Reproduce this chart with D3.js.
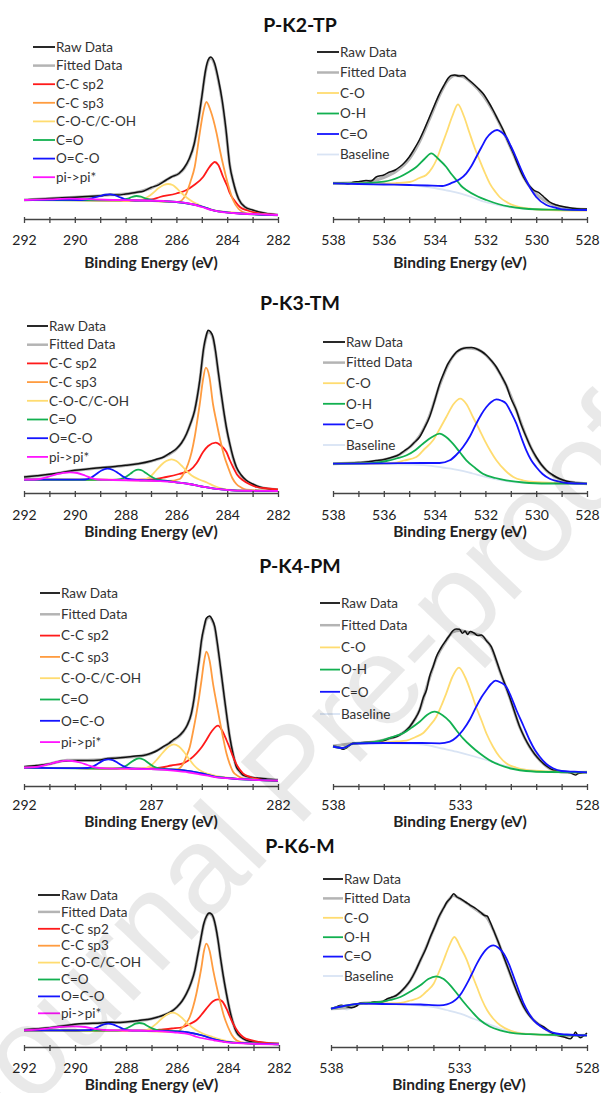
<!DOCTYPE html>
<html>
<head>
<meta charset="utf-8">
<script src="https://cdn.jsdelivr.net/npm/d3@7"></script>
<style>
  body { margin: 0; background: #fff; }
  text { font-family: Lato, "Open Sans", sans-serif; }
</style>
</head>
<body>
<script>
// ---- legend names / tick labels ----
const cNames = ['Raw Data', 'Fitted Data', 'C-C sp2', 'C-C sp3', 'C-O-C/C-OH', 'C=O', 'O=C-O', 'pi->pi*'];
const oNames = ['Raw Data', 'Fitted Data', 'C-O', 'O-H', 'C=O', 'Baseline'];
const titles = ['P-K2-TP', 'P-K3-TM', 'P-K4-PM', 'P-K6-M'];
const cTicks2 = [292, 290, 288, 286, 284, 282];
const cTicks5 = [292, 287, 282];
const oTicks2 = [538, 536, 534, 532, 530, 528];
const oTicks5 = [538, 533, 528];

// ---- P-K2-TP, C 1s  [binding energy eV, intensity a.u.] ----
const k2c_raw = [[292,19],[291.5,19.8],[291,20.6],[290.5,21.2],[290,21.8],[289.5,22.5],[289,23.2],[288.6,24.5],[288.3,24],[288,25],[287.6,26.6],[287.3,27.8],[287,31.5],[286.7,34.2],[286.4,39],[286.2,42],[285.9,45.5],[285.7,51],[285.5,60],[285.3,75],[285.15,96],[285,122],[284.85,149],[284.75,159],[284.65,162],[284.5,156],[284.35,140],[284.2,119],[284.05,90],[283.9,54],[283.75,36],[283.55,20],[283.3,12],[283,9],[282.5,5.7],[282,4]];
const k2c_fit = [[292,19],[291,20.5],[290,21.8],[289,23.2],[288.6,24.2],[288,25],[287.5,27],[287,31],[286.5,37.5],[286.2,42],[285.9,45.5],[285.7,50.5],[285.5,59.5],[285.3,75],[285.15,96],[285,122],[284.85,148],[284.75,158],[284.65,161],[284.5,155],[284.35,139],[284.2,118],[284.05,89],[283.9,54],[283.75,36],[283.55,20],[283.3,12],[283,8.7],[282.5,5.5],[282,4]];
const k2c_sp2 = [[292,19],[290,18.8],[288,18.5],[287,19.5],[286.65,22],[286,25.5],[285.6,29],[285.3,34],[284.95,42],[284.75,50],[284.6,55],[284.49,57],[284.35,54],[284.16,42],[284,33],[283.9,26],[283.7,18],[283.5,12],[283.2,8.5],[282.85,6],[282.4,4.6],[282,4]];
const k2c_sp3 = [[292,19],[288,18.5],[286.5,17.5],[286,17],[285.87,17.5],[285.6,26],[285.45,37],[285.28,52],[285.08,86],[284.95,106],[284.82,117],[284.65,108],[284.42,86],[284.28,68],[284.14,52],[283.95,33],[283.77,19],[283.55,10],[283.38,7],[283,5],[282,4]];
const k2c_coc = [[292,19],[288,18.5],[287.6,18.8],[287.3,20],[287.1,22.5],[286.92,26],[286.7,31],[286.5,34],[286.33,35],[286.15,34],[286,31],[285.8,26],[285.6,21.5],[285.34,17],[285.1,14],[284.8,11],[284.5,8.5],[284,7],[283,5],[282,4]];
const k2c_co = [[292,19],[289,18.7],[288.3,18.6],[288.1,19],[287.9,20.5],[287.75,22],[287.57,23],[287.4,22.3],[287.2,20.5],[287,19],[286.7,18],[286,17],[285,12.5],[284.5,8.3],[283.5,5.5],[282,4]];
const k2c_oco = [[292,19],[290.5,19.2],[289.9,19],[289.6,19.5],[289.3,21],[289,23],[288.8,24.3],[288.62,24.7],[288.45,24],[288.25,22],[288.05,20],[287.8,18.7],[287,18.3],[286,17],[285,12.5],[284.5,8.3],[283.5,5.5],[282,4]];
const k2c_pi = [[292,19],[291,19.6],[290.2,20.3],[289.5,19.8],[288.5,19],[287.5,18.6],[286.5,18],[286,17.2],[285.5,15.5],[285,12],[284.6,8.8],[284.2,6.8],[283.5,5.5],[282.5,4.5],[282,4]];

// ---- P-K2-TP, O 1s ----
const k2o_raw = [[538,35.7],[537.6,36],[537.4,35],[537.2,36.8],[537,37.3],[536.7,38.5],[536.5,38],[536.3,42],[536,44],[535.77,47],[535.55,49],[535.38,52],[535.2,56],[535,62],[534.8,70],[534.6,79],[534.4,90],[534.2,102],[534,114],[533.8,125.7],[533.6,135],[533.47,140.7],[533.35,143.5],[533.2,144],[533.05,143],[532.88,143.5],[532.7,140],[532.5,135.7],[532.3,131],[532.1,125.7],[531.9,118],[531.7,109],[531.5,99],[531.3,89],[531.1,77],[530.9,65.7],[530.7,53],[530.5,42],[530.3,34],[530.1,29],[529.86,25.7],[529.7,22],[529.47,17],[529.2,14],[528.8,11.7],[528.4,10.3],[528,10]];
const k2o_fit = [[538,35.7],[537,36.5],[536.5,38],[536,41.5],[535.5,48],[535,60],[534.6,77],[534.2,100],[533.8,124],[533.5,138],[533.2,143.5],[532.9,142.5],[532.5,135],[532.1,124],[531.7,108],[531.3,88],[530.9,65],[530.5,42],[530.1,27.5],[529.7,19],[529.3,14],[528.8,11],[528,9.5]];
const k2o_c_o = [[538,35.7],[536,35.5],[535.5,36],[534.98,37],[534.6,41],[534.33,44],[534.1,51],[533.93,59],[533.74,72],[533.54,85.7],[533.3,103],[533.08,114.7],[532.85,103],[532.62,85.7],[532.42,71],[532.23,59],[532,45],[531.83,35.7],[531.6,27],[531.44,22],[531.1,16],[530.8,13],[530.3,10.5],[529.5,9],[528,8.3]];
const k2o_oh = [[538,35.7],[537,35.7],[536,37.3],[535.7,39],[535.38,42],[535.05,46.5],[534.72,52],[534.4,60],[534.13,65.7],[533.85,60],[533.54,52],[533.34,45],[533.14,39],[532.95,33],[532.75,29],[532.3,22.5],[531.96,19],[531.5,15],[531.04,12.3],[530.5,10.5],[529.5,9.3],[528,9]];
const k2o_cdo = [[538,35.7],[537,35],[536,34.5],[535,34],[534.3,33.5],[533.7,33],[533.3,36.3],[533,40],[532.75,45.7],[532.55,53],[532.36,62],[532.15,72],[531.96,80.7],[531.75,86.5],[531.54,89],[531.35,86.5],[531.18,82],[531,73],[530.8,62],[530.6,50],[530.4,39],[530.2,29.5],[530,22],[529.6,14],[529.2,11],[528.95,9.7],[528,9]];
const k2o_base = [[538,35.7],[537,35.5],[536,35],[535,34],[534.4,32.5],[534,31],[533.5,28.5],[533,25.7],[532.5,21.5],[532,17],[531.5,14],[531,11.7],[530.5,10.3],[530,9.7],[529,8.8],[528,8.3]];

// ---- P-K3-TM, C 1s ----
const k3c_raw = [[292,16],[291.5,17.3],[291,18.7],[290.5,20.5],[290,22.7],[289.5,24],[289,25.3],[288.5,26.3],[288,27.7],[287.5,29.3],[287,32],[286.75,34],[286.5,36],[286.25,40],[286,44.3],[285.8,50],[285.6,59.3],[285.45,69],[285.28,82.7],[285.18,96],[285.08,112.7],[284.92,146],[284.83,157],[284.75,162.7],[284.65,161],[284.56,156],[284.46,142],[284.36,122.7],[284.25,102],[284.14,82.7],[284.02,64],[283.9,49.3],[283.77,36],[283.64,26],[283.45,18],[283.25,12.7],[283,9],[282.72,6],[282.4,4.3],[282,3.3]];
const k3c_fit = [[292,16],[291,18.5],[290,22.5],[289,25.2],[288,27.5],[287.5,29.2],[287,31.8],[286.5,36],[286,44],[285.8,50],[285.6,59],[285.45,69],[285.28,82.5],[285.18,96],[285.08,112],[284.92,145],[284.83,156],[284.75,161.5],[284.65,160],[284.56,155],[284.46,141],[284.36,122],[284.25,101.5],[284.14,82],[284.02,63.5],[283.9,49],[283.77,35.5],[283.64,25.5],[283.45,17.5],[283.25,12.3],[283,8.8],[282.72,5.8],[282.4,4.2],[282,3.3]];
const k3c_sp2 = [[292,13.3],[290,13.3],[288,13.2],[287,13.5],[286.4,16],[285.9,19],[285.47,22.7],[285.2,30],[284.95,41],[284.75,47],[284.45,50.3],[284.25,47.5],[284.03,41],[283.9,33],[283.77,26],[283.6,18],[283.38,12.7],[283.1,8.5],[282.85,6],[282.4,4.5],[282,3.7]];
const k3c_sp3 = [[292,13.3],[288,13],[286.3,12],[285.87,14],[285.7,20],[285.54,29],[285.4,41],[285.28,56],[285.18,72],[285.08,89],[284.96,112],[284.84,125.3],[284.7,116],[284.56,89],[284.43,72],[284.3,56],[284.13,38],[283.97,26],[283.8,15],[283.64,9],[283.45,5.5],[283.25,3.3],[282.5,2.3],[282,2]];
const k3c_coc = [[292,13.3],[288,13],[287.4,13.2],[287.2,14],[287,17],[286.8,22.5],[286.6,28],[286.4,32],[286.19,33.7],[286,32],[285.8,27.5],[285.6,22],[285.4,17.5],[285.1,13.5],[284.8,10.5],[284.5,7],[284.2,4.5],[283.8,3],[282,2]];
const k3c_co = [[292,13.3],[288.5,13.2],[288.2,13.8],[288,16],[287.8,19.5],[287.65,22.3],[287.5,23.3],[287.35,22.5],[287.2,20],[287,16.5],[286.8,14],[286.5,12.5],[286,10.7],[285.5,9],[285,6.5],[284.5,4.3],[283.8,2.7],[282,2]];
const k3c_oco = [[292,13.3],[290,13.3],[289.6,13.5],[289.35,15.5],[289.15,19],[288.95,22.5],[288.72,24.3],[288.5,23],[288.3,20],[288.1,16.5],[287.9,14],[287.5,13],[286.5,12.2],[286,10.7],[285.5,9],[285,6.5],[284.5,4.3],[283.8,2.7],[282,2]];
const k3c_pi = [[292,13.3],[291.6,13.5],[291.3,14.5],[291,16.5],[290.7,18.8],[290.45,20.2],[290.19,20.7],[289.9,20],[289.6,17.5],[289.35,15],[289.1,13.5],[288.5,13],[287.5,12.5],[286.5,11.7],[286,10.7],[285.5,9],[285,6.5],[284.5,4.3],[283.8,2.7],[283,2.2],[282,2]];

// ---- P-K3-TM, O 1s ----
const k3o_raw = [[538,29.3],[537.5,29.8],[537,30.5],[536.7,31],[536.3,32.5],[536.03,33.3],[535.7,35.5],[535.38,38.7],[535.2,42],[534.98,46],[534.8,50.5],[534.59,56],[534.4,65],[534.2,76],[534,92],[533.8,109.3],[533.65,119],[533.47,129.3],[533.3,136],[533.14,141],[532.95,144],[532.75,145.3],[532.55,145.5],[532.36,144.3],[532.15,141.5],[531.96,137.7],[531.77,132.5],[531.57,126],[531.38,117.5],[531.18,107.7],[531,95],[530.78,82.7],[530.6,69],[530.39,56],[530.2,45],[530,36],[529.8,28.5],[529.6,22.7],[529.35,18],[529.08,14.3],[528.75,11.5],[528.42,10.3],[528,9.3]];
const k3o_fit = [[538,29.3],[537,30.3],[536,33.2],[535.38,38.5],[534.98,46],[534.59,57],[534.2,77],[533.8,108],[533.47,128.5],[533.14,140.5],[532.75,145],[532.36,144],[531.96,137.5],[531.57,125.5],[531.18,107.5],[530.78,82.5],[530.39,56],[530,35.5],[529.6,22.5],[529.08,14],[528.42,10.2],[528,9.3]];
const k3o_c_o = [[538,29.3],[536.5,29.5],[535.64,30],[535.2,32.5],[534.72,36],[534.4,44],[534.06,52.7],[533.8,64],[533.54,76],[533.25,89],[532.99,94.3],[532.75,89],[532.49,76],[532.25,64],[532.03,52.7],[531.8,42],[531.57,32.7],[531.2,22],[530.9,16],[530.5,12.5],[530.1,11],[529,9.8],[528,9.3]];
const k3o_oh = [[538,29.3],[536.5,29.8],[535.9,32],[535.5,34.5],[535.1,37.7],[534.75,43],[534.46,49.3],[534.1,56],[533.8,59.3],[533.55,56],[533.28,49.3],[533,40.5],[532.75,32.7],[532.4,25],[532.1,19.3],[531.6,15],[531.18,12.7],[530.5,10.5],[529.5,9.5],[528,9.3]];
const k3o_cdo = [[538,29.3],[536,29.6],[534.5,30],[533.8,30],[533.4,32.7],[533.15,38],[532.88,46],[532.6,57],[532.36,69.3],[532.15,79],[531.96,86],[531.77,91],[531.57,93.7],[531.38,92.5],[531.18,89.3],[531,81],[530.78,69.3],[530.58,55],[530.39,42.7],[530.2,33],[530,26],[529.75,19],[529.47,14.3],[529.1,11.5],[528.8,10],[528,9.3]];
const k3o_base = [[538,29.3],[536,29],[535,28.5],[534.33,27.7],[533.7,25.5],[533,22.7],[532.5,19.5],[531.96,16],[531.4,13],[530.9,11],[530,10],[529,9.5],[528,9.3]];

// ---- P-K4-PM, C 1s ----
const k4c_raw = [[292,19.3],[291.5,20.5],[291,22],[290.5,25],[290,25.6],[289.5,25.5],[289,26],[288.7,27.5],[288.4,27.8],[288,28.7],[287.6,30],[287.3,30.5],[287,32.7],[286.75,35.5],[286.52,39.3],[286.3,42.5],[286.13,46],[285.95,49],[285.74,54.3],[285.57,61],[285.41,72.7],[285.3,88],[285.21,106],[285.1,127],[285.01,146],[284.9,160],[284.82,167.7],[284.69,170],[284.6,167],[284.49,159.3],[284.4,145],[284.3,126],[284.2,106],[284.1,86],[284,67],[283.9,49.3],[283.77,32],[283.64,19.3],[283.5,14.5],[283.38,11],[283,8.5],[282.72,7.7],[282.4,6.8],[282,6]];
const k4c_fit = [[292,19],[291,22],[290.3,25.8],[289.5,25.7],[289,26.2],[288.7,27.5],[288,28.7],[287.5,29.8],[287,32.5],[286.52,39],[286.13,45.5],[285.74,54],[285.57,61],[285.41,72.5],[285.3,88],[285.21,106],[285.1,127],[285.01,145],[284.9,159],[284.82,166.5],[284.69,169],[284.6,166],[284.49,158.5],[284.4,144],[284.3,125.5],[284.2,105.5],[284.1,85.5],[284,66.5],[283.9,49],[283.77,32],[283.64,19.5],[283.5,14],[283.38,11],[283,8.3],[282.5,7],[282,6]];
const k4c_sp2 = [[292,18.3],[290,17.8],[288,17.3],[287,17.5],[286.65,18.3],[286.2,20.5],[285.74,22.7],[285.45,27],[285.21,32.7],[285,39],[284.82,46],[284.6,55],[284.36,60.3],[284.2,55.5],[284.03,46],[283.9,38],[283.77,29.3],[283.6,20],[283.38,12.7],[283.1,9],[282.72,6.7],[282.3,5.8],[282,5.3]];
const k4c_sp3 = [[292,18.3],[288,17.3],[286.5,16.7],[286,16.5],[285.76,21],[285.62,29],[285.47,39.3],[285.34,55],[285.21,72.7],[285.1,90],[285.01,106],[284.92,123],[284.82,134.3],[284.69,125],[284.56,102.7],[284.43,84],[284.3,66],[284.16,48],[284.03,32.7],[283.9,22],[283.77,14.3],[283.58,10],[283.38,7.7],[283,6.5],[282,5.3]];
const k4c_coc = [[292,18.3],[288,17.3],[287.4,17.2],[287.2,18],[287,20.5],[286.8,25.5],[286.55,33],[286.3,39.5],[286.1,41.7],[285.9,39.5],[285.7,34],[285.5,27],[285.3,20.5],[285.1,16],[284.9,13.5],[284.6,11.2],[284.2,9],[283.7,7.5],[283,6.5],[282,5.3]];
const k4c_co = [[292,18.3],[288.5,17.3],[288.2,17.8],[288,20],[287.8,23.5],[287.6,26.7],[287.47,27.7],[287.3,26.5],[287.1,23],[286.9,19.5],[286.6,17.3],[286.2,16.5],[285.7,15.7],[285,12.5],[284.5,9.3],[283.8,7.5],[282,5.3]];
const k4c_oco = [[292,18.3],[290,17.8],[289.5,18],[289.25,20],[289.05,23],[288.85,25.8],[288.68,26.7],[288.5,25.8],[288.3,23],[288.1,20],[287.9,18],[287.6,17.3],[286.5,16.7],[285.7,15.7],[285,12.5],[284.5,9.3],[283.8,7.5],[282,5.3]];
const k4c_pi = [[292,18.3],[291.6,18.8],[291.3,20],[291,22],[290.7,24],[290.45,25.1],[290.32,25.3],[290.1,25],[289.8,23.5],[289.5,21],[289.2,18.5],[288.8,17.7],[288,17.3],[287,16.8],[286.13,15.3],[285.5,13.5],[285.08,11.7],[284.43,8.7],[283.77,7.3],[283,6.2],[282,5.3]];

// ---- P-K4-PM, O 1s ----
const k4o_raw = [[538,40],[537.8,39],[537.6,36.7],[537.45,38.5],[537.2,43],[536.8,43.5],[536.4,44],[536.1,44.5],[535.77,47.7],[535.55,49],[535.38,51],[535.2,54],[534.98,59.3],[534.8,66],[534.59,76],[534.45,88],[534.32,96],[534.2,109.3],[534.05,120],[533.93,129.3],[533.75,138],[533.54,146],[533.4,151],[533.28,155.3],[533.15,157],[533.02,156.7],[532.9,152.7],[532.8,155],[532.7,151.5],[532.6,154.5],[532.45,153],[532.3,150.5],[532.16,151],[531.95,145],[531.77,139.3],[531.6,128],[531.44,116],[531.25,103],[531.05,89.3],[530.85,74],[530.65,59.3],[530.45,48],[530.26,39.3],[530.05,31.5],[529.86,26],[529.6,20],[529.34,16],[529,14.3],[528.7,13.5],[528.45,11],[528.35,12.5],[528.2,13.2],[528,13.7]];
const k4o_fit = [[538,40],[537.2,42.5],[536.4,44],[535.77,47.5],[535.38,51],[534.98,59],[534.59,76],[534.2,108],[533.93,128],[533.54,145.5],[533.28,154],[533.02,155.5],[532.75,154],[532.45,152.5],[532.16,150],[531.77,138.5],[531.44,115.5],[531.05,89],[530.65,59],[530.26,39],[529.86,25.8],[529.34,16],[528.7,13.5],[528,13.7]];
const k4o_c_o = [[538,39.5],[537.6,38],[537.2,42.5],[536,43.7],[535.5,44.5],[535.11,45.3],[534.75,49],[534.46,52.7],[534.2,60],[533.93,69.3],[533.74,80],[533.54,92.7],[533.3,109],[533.04,118.3],[532.8,109],[532.55,92.7],[532.35,78],[532.16,66],[531.95,52],[531.7,39.3],[531.45,29.5],[531.18,22.7],[530.8,18.5],[530.4,16],[529.5,14.5],[528,13.7]];
const k4o_oh = [[538,39.5],[537.6,38],[537.2,42.5],[536.5,43.5],[536.03,46],[535.6,49.5],[535.24,52.7],[534.9,58.5],[534.59,64.3],[534.3,71],[534,74.3],[533.7,71],[533.4,64.3],[533.15,56],[532.88,47.7],[532.55,39.5],[532.23,32.7],[531.85,26],[531.44,21],[530.9,17],[530.4,15],[529.5,14],[528,13.7]];
const k4o_cdo = [[538,39.5],[537.6,38],[537.2,42.5],[536,43],[534.5,43],[533.8,42.7],[533.4,44.3],[533.15,48.5],[532.88,56],[532.6,67],[532.36,79.3],[532.15,89],[531.96,96],[531.78,102],[531.6,105.3],[531.4,103.5],[531.18,99.3],[531,90],[530.78,76],[530.5,60],[530.26,46],[530.05,36],[529.86,29.3],[529.6,22],[529.34,17.7],[529,15],[528.5,14.3],[528,13.7]];
const k4o_base = [[538,39.5],[537.6,38],[537.2,42.5],[536.5,43],[535,42.2],[534.33,41],[533.7,37.5],[533.14,34.3],[532.5,30],[531.96,26],[531.4,21.5],[530.78,17.7],[530,15.2],[529.3,14.3],[528,13.7]];

// ---- P-K6-M, C 1s ----
const k6c_raw = [[292,17.3],[291.5,18.3],[291,19.3],[290.5,21],[290,22.7],[289.5,23.5],[289,24],[288.7,24.8],[288.4,24.5],[288,25],[287.5,26.5],[287,28.3],[286.75,30],[286.54,31.7],[286.25,35],[286,40],[285.8,46],[285.63,53.3],[285.45,64],[285.3,76.7],[285.2,90],[285.1,103.3],[284.95,123.3],[284.84,131],[284.74,134],[284.65,133],[284.58,130],[284.48,120],[284.39,106.7],[284.3,90],[284.2,73.3],[284.06,53],[283.93,36.7],[283.8,24],[283.67,15],[283.5,10],[283.28,6.7],[283,5],[282.76,4],[282.4,3.6],[282,3.3]];
const k6c_fit = [[292,17],[291,19.2],[290,22.5],[289,24],[288,25],[287.5,26.3],[287,28.3],[286.54,31.7],[286.25,35],[286,40],[285.8,46],[285.63,53.3],[285.45,64],[285.3,76.7],[285.2,90],[285.1,103],[284.95,122.5],[284.84,130.5],[284.74,133.5],[284.65,132.5],[284.58,129.5],[284.48,119.5],[284.39,106.5],[284.3,90],[284.2,73],[284.06,53],[283.93,36.7],[283.8,24],[283.67,15],[283.5,10],[283.28,6.7],[283,5],[282.5,3.8],[282,3.3]];
const k6c_sp2 = [[292,16.7],[290,16.5],[288,16.3],[287,16.5],[286.67,17.3],[286.2,18.5],[285.76,20],[285.5,23],[285.24,26.7],[285.05,32],[284.85,38.3],[284.6,45.5],[284.39,47.7],[284.22,45.5],[284.06,38.3],[283.93,30.5],[283.8,23.3],[283.6,15],[283.41,10],[283.1,6.8],[282.76,5],[282.4,3.8],[282,3.3]];
const k6c_sp3 = [[292,16.7],[288,16.3],[286.3,15.5],[285.95,15.5],[285.83,18.3],[285.67,23],[285.5,30],[285.37,40],[285.24,53.3],[285.14,66],[285.04,80],[284.95,95],[284.85,103.3],[284.72,96],[284.58,76.7],[284.45,61],[284.32,46.7],[284.16,31],[284,20],[283.85,12],[283.67,6.7],[283.45,4.5],[283.28,4],[282,3]];
const k6c_coc = [[292,16.7],[288,16.3],[287.4,16.2],[287.2,17],[287,19.5],[286.8,23.5],[286.55,29.5],[286.35,33],[286.18,34.3],[286,33],[285.8,29],[285.6,24],[285.4,19.5],[285.15,15.5],[284.9,12.5],[284.6,10],[284.2,7],[283.7,4.5],[283,3.3],[282,2.7]];
const k6c_co = [[292,16.7],[288.5,16.3],[288.2,16.7],[288,18.3],[287.8,21],[287.62,23.3],[287.48,24],[287.32,23.3],[287.15,21],[286.95,18.3],[286.7,16.5],[286.3,16.2],[285.7,15.2],[285,11.5],[284.5,7.3],[283.8,4.3],[282,2.7]];
const k6c_oco = [[292,16.7],[290,16.7],[289.45,16.8],[289.25,18.3],[289.05,20.7],[288.87,22.7],[288.7,23.3],[288.52,22.7],[288.32,20.5],[288.1,18],[287.9,16.7],[287.5,16.3],[286.5,16],[285.7,15.2],[285,11.5],[284.5,7.3],[283.8,4.3],[282,2.7]];
const k6c_pi = [[292,16.7],[291.5,17.5],[291,18.8],[290.6,20],[290.07,20.7],[289.6,20],[289.2,18],[288.9,17],[288,16.5],[287,16.2],[286.13,14.7],[285.5,12.5],[285.2,10],[284.55,6.7],[283.93,4.3],[283,3.2],[282,2.7]];

// ---- P-K6-M, O 1s ----
const k6o_raw = [[538,38.3],[537.8,40],[537.6,41.7],[537.4,40.5],[537.2,39.3],[537,41],[536.85,44],[536.6,43.5],[536.3,45],[536.05,44.5],[535.8,48.3],[535.6,50],[535.45,51.5],[535.29,55],[535.1,60],[534.9,66.7],[534.7,76],[534.51,86.7],[534.3,98],[534.12,110],[533.95,120],[533.79,130],[533.6,139],[533.47,145],[533.33,149],[533.21,153.3],[533.08,150],[532.95,148.3],[532.75,145],[532.56,141.7],[532.35,138.5],[532.17,135],[532,131.5],[531.9,131],[531.8,126],[531.65,116.7],[531.45,104],[531.25,90],[531.05,76.5],[530.86,63.3],[530.65,50],[530.47,40],[530.28,32.5],[530.08,26.7],[529.9,23],[529.69,20],[529.45,15.5],[529.17,11.7],[528.9,10],[528.65,8.3],[528.5,13],[528.45,15],[528.35,11],[528.25,9.3],[528.1,12],[528,14]];
const k6o_fit = [[538,38.3],[537.2,40],[536.85,43.5],[536.05,45],[535.6,49.5],[535.29,54.5],[534.9,66.5],[534.51,86.5],[534.12,109.5],[533.79,129.5],[533.47,144.5],[533.21,151.5],[532.95,148],[532.56,141.5],[532.17,134.5],[531.9,129],[531.65,116.5],[531.25,90],[530.86,63.3],[530.47,40],[530.08,26.7],[529.69,19.5],[529.17,12],[528.6,11.5],[528,11.7]];
const k6o_c_o = [[538,38.3],[537.5,41],[536.85,43.3],[536,43.5],[535.29,44],[534.9,46.5],[534.51,50],[534.25,56],[533.99,63.3],[533.8,74],[533.6,86.7],[533.4,100],[533.18,110],[532.95,100],[532.69,86.7],[532.5,73],[532.3,60],[532.1,47],[531.9,36.7],[531.65,28],[531.39,21.7],[531,16.5],[530.5,13.3],[529.5,12],[528,11.7]];
const k6o_oh = [[538,38.3],[537.5,41],[536.85,43.3],[536.07,45],[535.7,47],[535.29,50],[534.9,55.5],[534.51,61.7],[534.2,68],[533.89,70.7],[533.6,68],[533.34,61.7],[533.08,53.5],[532.82,45],[532.5,35.5],[532.17,26.7],[531.8,20.5],[531.39,16.7],[530.8,13.7],[530,12.7],[528,11.7]];
const k6o_cdo = [[538,38.3],[537.5,41],[536.85,43.3],[536,43],[534.5,42.5],[533.75,41.7],[533.47,42.7],[533.25,45],[533.08,48.3],[532.9,54],[532.69,63.3],[532.5,73],[532.3,83.3],[532.13,91],[531.97,96.7],[531.8,100.5],[531.65,101.7],[531.45,99],[531.25,93.3],[531.05,83],[530.86,70],[530.66,56],[530.47,43.3],[530.28,34],[530.08,26.7],[529.8,20.5],[529.56,16.7],[529.2,13.5],[528.8,12.5],[528.5,12],[528,11.7]];
const k6o_base = [[538,38.3],[537.8,40],[537.6,39.5],[537.4,37.5],[537.2,39.3],[537,41.5],[536.85,43.3],[536,43],[534.5,41.5],[533.99,40],[533.5,37],[532.95,33.3],[532.4,28],[531.9,23.3],[531.4,18.5],[530.86,15],[530.2,12.7],[529.5,11.7],[528.5,11.7],[528,11.7]];

// ---- styles ----
const cColors = ['#111111', '#b4b4b4', '#ff1a1a', '#ff9c40', '#ffdc70', '#12b050', '#1414ff', '#ff14ff'];
const cWidths = [1.5, 3, 1.8, 1.8, 1.8, 1.8, 1.8, 1.8];
const oColors = ['#111111', '#b4b4b4', '#ffdc70', '#12b050', '#1414ff', '#d9e4f4'];
const oWidths = [1.5, 3, 1.8, 1.8, 1.8, 1.8];

const W = 601, H = 1093;
const svg = d3.select('body').append('svg').attr('width', W).attr('height', H);

// panel layout (pixels)
const rows = [
  { title: 25, axisY: 219, lab: 240, xt: 263 },
  { title: 303, axisY: 493, lab: 515, xt: 532 },
  { title: 566, axisY: 786, lab: 805, xt: 822 },
  { title: 846, axisY: 1047, lab: 1068, xt: 1085 }
];

const panels = [
  { row: 0, kind: 'C', r: [24, 278], labels: cTicks2, leg: [33, 55, 47, 18.6],
    series: [k2c_raw, k2c_fit, k2c_sp2, k2c_sp3, k2c_coc, k2c_co, k2c_oco, k2c_pi] },
  { row: 0, kind: 'O', r: [333, 587], labels: oTicks2, leg: [317, 339, 52, 20.5],
    series: [k2o_raw, k2o_fit, k2o_c_o, k2o_oh, k2o_cdo, k2o_base] },
  { row: 1, kind: 'C', r: [24, 278], labels: cTicks2, leg: [27, 48, 326, 18.7],
    series: [k3c_raw, k3c_fit, k3c_sp2, k3c_sp3, k3c_coc, k3c_co, k3c_oco, k3c_pi] },
  { row: 1, kind: 'O', r: [333, 587], labels: oTicks2, leg: [323, 345, 342, 20.6],
    series: [k3o_raw, k3o_fit, k3o_c_o, k3o_oh, k3o_cdo, k3o_base] },
  { row: 2, kind: 'C', r: [24, 278], labels: cTicks5, leg: [40, 60, 593, 21.3],
    series: [k4c_raw, k4c_fit, k4c_sp2, k4c_sp3, k4c_coc, k4c_co, k4c_oco, k4c_pi] },
  { row: 2, kind: 'O', r: [333, 587], labels: oTicks5, leg: [320, 340, 603, 22.2],
    series: [k4o_raw, k4o_fit, k4o_c_o, k4o_oh, k4o_cdo, k4o_base] },
  { row: 3, kind: 'C', r: [24, 279], labels: cTicks2, leg: [38, 60, 895, 16.9],
    series: [k6c_raw, k6c_fit, k6c_sp2, k6c_sp3, k6c_coc, k6c_co, k6c_oco, k6c_pi] },
  { row: 3, kind: 'O', r: [331, 587], labels: oTicks5, leg: [323, 343, 879, 19.4],
    series: [k6o_raw, k6o_fit, k6o_c_o, k6o_oh, k6o_cdo, k6o_base] }
];

function drawPanel(p) {
  const row = rows[p.row];
  const isC = p.kind === 'C';
  const names = isC ? cNames : oNames;
  const colors = isC ? cColors : oColors;
  const widths = isC ? cWidths : oWidths;
  const dom = isC ? [292, 282] : [538, 528];
  const g = svg.append('g');

  const x = d3.scaleLinear().domain(dom).range(p.r);
  const y = d3.scaleLinear().domain([0, 200]).range([row.axisY, row.axisY - 200]);
  const line = d3.line().x(d => x(d[0])).y(d => y(d[1])).curve(d3.curveMonotoneX);

  // baseline first (O 1s), then fitted, raw, then the components
  const order = isC ? [1, 0, 2, 3, 4, 5, 6, 7] : [5, 1, 0, 2, 3, 4];
  order.forEach(i => {
    g.append('path')
      .attr('d', line(p.series[i]))
      .attr('fill', 'none')
      .attr('stroke', colors[i])
      .attr('stroke-width', widths[i])
      .attr('stroke-linejoin', 'round');
  });

  // x axis: minor tick every 1 eV, labels only on some
  const lo = Math.min(...dom), hi = Math.max(...dom);
  const ax = g.append('g')
    .attr('transform', `translate(0,${row.axisY})`)
    .call(d3.axisBottom(x)
      .tickValues(d3.range(lo, hi + 1))
      .tickSize(4)
      .tickSizeOuter(0)
      .tickFormat(d => p.labels.includes(d) ? d : ''));
  ax.select('.domain').attr('stroke', '#444').attr('stroke-width', 1.3);
  ax.selectAll('.tick line').attr('stroke', '#444').attr('stroke-width', 1.3).attr('y1', -2);
  ax.selectAll('.tick text')
    .attr('y', row.lab - row.axisY)
    .attr('dy', '0.35em')
    .attr('fill', '#222')
    .style('font-family', 'Lato, sans-serif')
    .style('font-size', '14px');

  g.append('text')
    .attr('x', (p.r[0] + p.r[1]) / 2)
    .attr('y', row.xt)
    .attr('dy', '0.35em')
    .attr('text-anchor', 'middle')
    .attr('font-weight', 'bold')
    .attr('font-size', '15.5px')
    .attr('fill', '#222')
    .text('Binding Energy (eV)');

  // legend
  const [lx0, lx1, ly0, ldy] = p.leg;
  names.forEach((name, i) => {
    const yy = ly0 + i * ldy;
    g.append('line')
      .attr('x1', lx0).attr('x2', lx1)
      .attr('y1', yy).attr('y2', yy)
      .attr('stroke', colors[i])
      .attr('stroke-width', i === 1 ? 2.5 : 1.8);
    g.append('text')
      .attr('x', lx1 + 1)
      .attr('y', yy)
      .attr('dy', '0.35em')
      .attr('font-size', '13.5px')
      .attr('fill', '#333')
      .text(name);
  });
}

panels.forEach(drawPanel);

rows.forEach((row, i) => {
  svg.append('text')
    .attr('x', 300)
    .attr('y', row.title)
    .attr('dy', '0.35em')
    .attr('text-anchor', 'middle')
    .attr('font-weight', 'bold')
    .attr('font-size', '19.5px')
    .attr('fill', '#111')
    .text(titles[i]);
});

// watermark (runs off the page like in the original)
svg.append('text')
  .attr('transform', 'translate(291,771) rotate(-46.5)')
  .attr('text-anchor', 'middle')
  .attr('dy', '0.35em')
  .style('font-family', '"Liberation Sans", Arial, sans-serif')
  .attr('font-size', '126px')
  .attr('fill', '#000')
  .attr('fill-opacity', 0.085)
  .text('Journal Pre-proof');
</script>
</body>
</html>
